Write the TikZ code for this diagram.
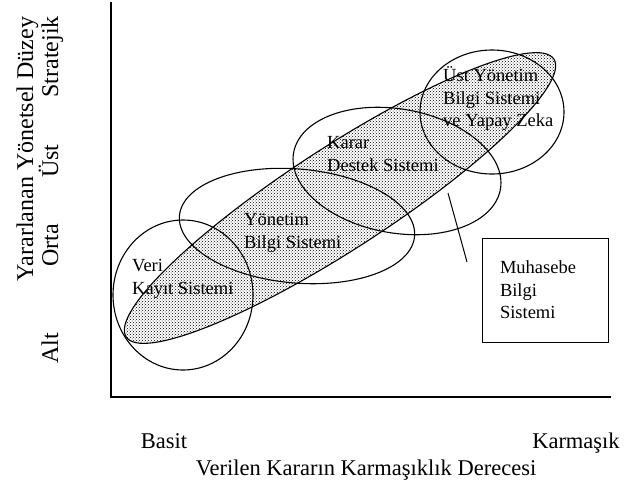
\documentclass[tikz,border=0pt]{standalone}
\usepackage{fontspec}
\setmainfont{Liberation Serif}
\usetikzlibrary{positioning,patterns}

\tikzset{
    axislabel/.style={font=\fontsize{22.5}{26}\selectfont, inner sep=0pt, anchor=base},
    levellabel/.style={font=\fontsize{24}{28}\selectfont, rotate=90, inner sep=0pt, anchor=base},
    systemlabel/.style={font=\fontsize{18.5}{22.5}\selectfont, align=left, anchor=west, inner sep=0pt},
    systemring/.style={line width=1.1pt},
}

\begin{document}
    \begin{tikzpicture}[x=1pt, y=-1pt]
        \useasboundingbox (0,0) rectangle (625,483);
        \def\bandcolor{black}

        % axes
        \coordinate (origin) at (111,397);
        \coordinate (ytop) at (111,2);
        \coordinate (xend) at (611,397);
        \draw[line width=1.1pt] (ytop) -- (origin) -- (xend);

        % shaded band of the systems
        \fill[pattern=crosshatch dots, pattern color=\bandcolor] (340,198) ellipse [x radius=255, y radius=51, rotate=33];
        \draw[systemring] (340,198) ellipse [x radius=255, y radius=51, rotate=33];

        % the four systems
        \draw[systemring] (183,295) ellipse [x radius=70, y radius=75];
        \draw[systemring] (297,226) ellipse [x radius=118, y radius=57, rotate=-5];
        \draw[systemring] (397,171) ellipse [x radius=105, y radius=62, rotate=-10];
        \draw[systemring] (492,112) ellipse [x radius=72, y radius=62];

        \node[systemlabel] (veri) at (132,279) {Veri\\Kayıt Sistemi};
        \node[systemlabel] (yonetim) at (244,233) {Yönetim\\Bilgi Sistemi};
        \node[systemlabel] (karar) at (327,154) {Karar\\Destek Sistemi};
        \node[systemlabel, text depth=0pt] (ust) at (443,97) {Üst Yönetim\\Bilgi Sistemi\\ve Yapay Zeka};

        % accounting information system
        \node[draw, line width=1pt, font=\fontsize{18.5}{22.5}\selectfont, align=left,
              text width=90pt, inner xsep=18pt, minimum height=104pt] (mbs) at (545,290)
            {Muhasebe\\Bilgi\\Sistemi};
        \coordinate (bandedge) at (448,193);
        \coordinate (mbstip) at (467,262);
        \draw[line width=1pt] (bandedge) -- (mbstip);

        % vertical axis texts
        \node[levellabel] (yaxis) at (33,149) {Yararlanan Yönetsel Düzey};
        \node[levellabel] (alt) at (58,348) {Alt};
        \node[levellabel] (orta) at (58,245) {Orta};
        \node[levellabel] (ustlevel) at (58,161) {Üst};
        \node[levellabel] (stratejik) at (58,57) {Stratejik};

        % horizontal axis texts
        \node[axislabel] (basit) at (164,448) {Basit};
        \node[axislabel] (karmasik) at (576,448) {Karmaşık};
        \node[axislabel] (xaxis) at (366,475) {Verilen Kararın Karmaşıklık Derecesi};

    \end{tikzpicture}
\end{document}
